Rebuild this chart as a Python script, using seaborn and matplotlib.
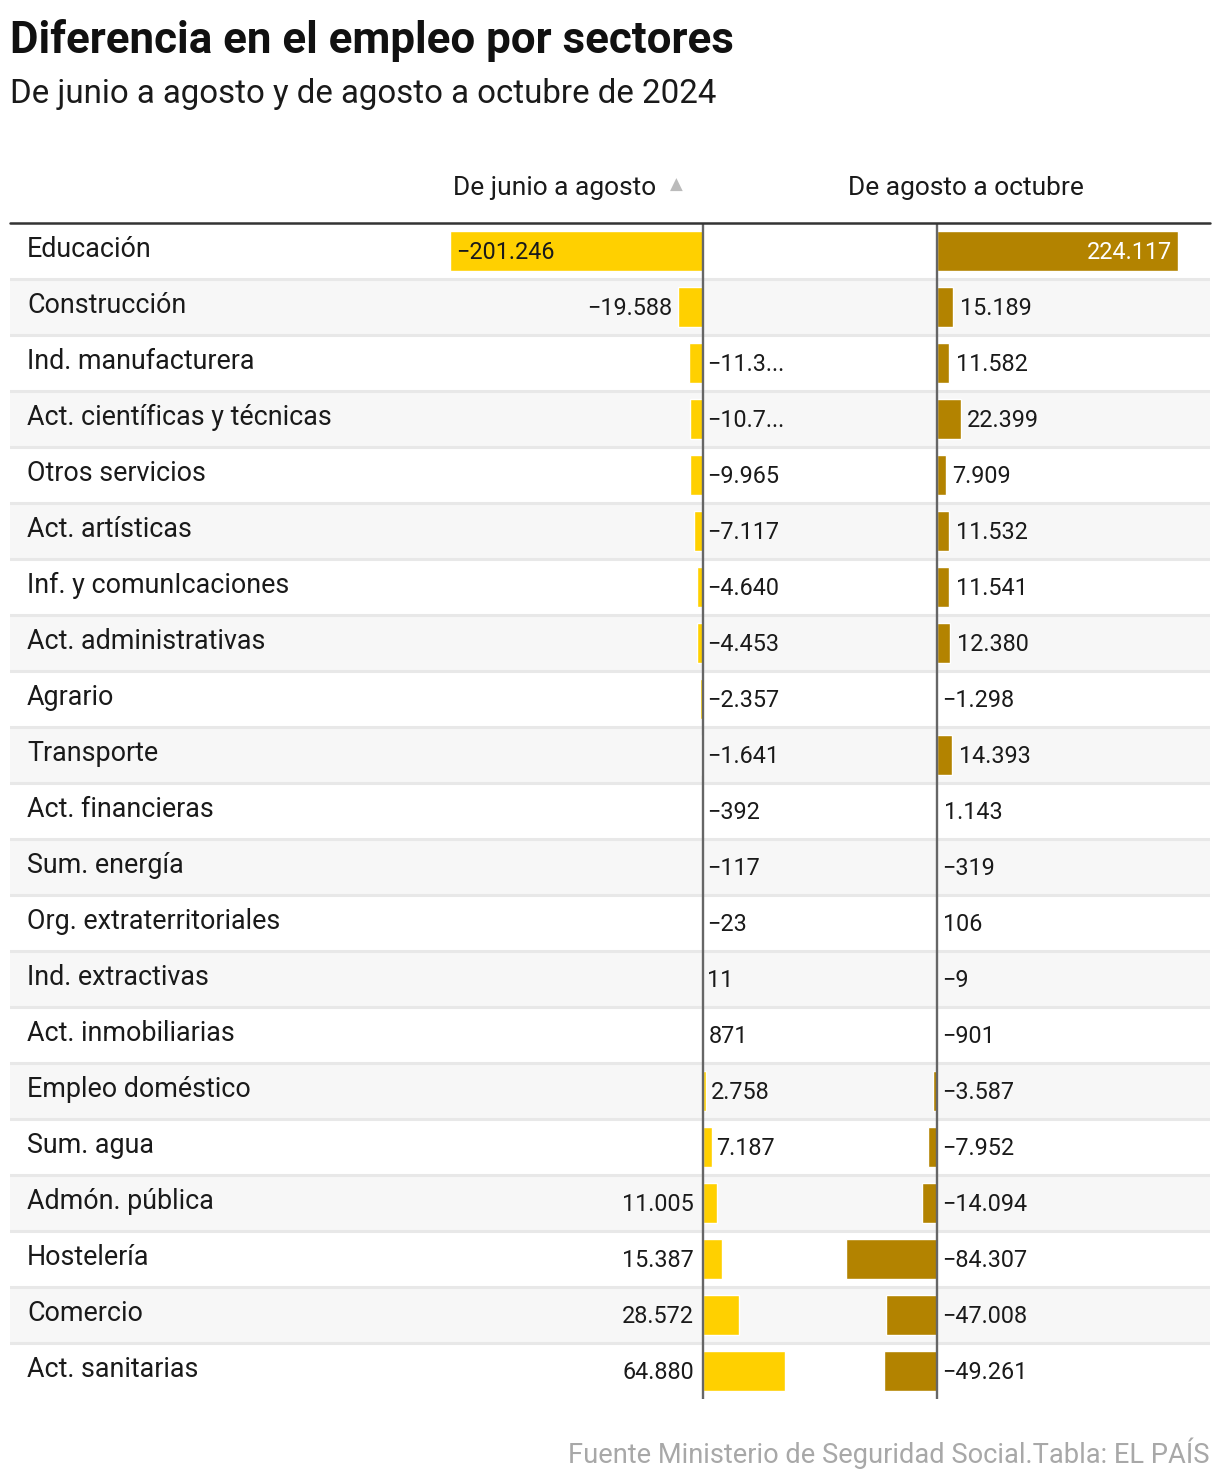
import numpy as np
import pandas as pd
import matplotlib
matplotlib.use("Agg")
import matplotlib.pyplot as plt
import seaborn as sns

# ----------------------------
# DATA
# ----------------------------

sectors = [
    "Educación", "Construcción", "Ind. manufacturera", "Act. científicas y técnicas",
    "Otros servicios", "Act. artísticas", "Inf. y comunIcaciones", "Act. administrativas",
    "Agrario", "Transporte", "Act. financieras", "Sum. energía",
    "Org. extraterritoriales", "Ind. extractivas", "Act. inmobiliarias", "Empleo doméstico",
    "Sum. agua", "Admón. pública", "Hostelería", "Comercio", "Act. sanitarias",
]

junio_agosto = [
    -201246, -19588, -11348, -10735, -9965, -7117, -4640, -4453, -2357, -1641,
    -392, -117, -23, 11, 871, 2758, 7187, 11005, 15387, 28572, 64880,
]

agosto_octubre = [
    224117, 15189, 11582, 22399, 7909, 11532, 11541, 12380, -1298, 14393,
    1143, -319, 106, -9, -901, -3587, -7952, -14094, -84307, -47008, -49261,
]

col_titles = ["De junio a agosto", "De agosto a octubre"]

title = "Diferencia en el empleo por sectores"
subtitle = "De junio a agosto y de agosto a octubre de 2024"
source = "Fuente Ministerio de Seguridad Social.Tabla: EL PAÍS"

YELLOW = "#FFD000"
GOLD = "#B38300"
TEXT = "#1a1a1a"
NUM_SIZE = 16.8

# ----------------------------
# FIGURE SETUP
# ----------------------------

sns.set_theme(style="white")
plt.rcParams["font.family"] = ["Roboto", "DejaVu Sans"]

W, H = 1220, 1482
fig = plt.figure(figsize=(W / 100, H / 100), dpi=100)
fig.patch.set_facecolor("white")

ROW_TOP, ROW_H = 223, 56
n = len(sectors)
ROW_BOTTOM = ROW_TOP + n * ROW_H


def fx(x):
    return x / W


def fy(y):
    return 1 - y / H


def band_axes(x0, x1):
    return fig.add_axes([fx(x0), fy(ROW_BOTTOM), fx(x1) - fx(x0), (ROW_BOTTOM - ROW_TOP) / H])


def fmt(v):
    s = f"{abs(v):,}".replace(",", ".")
    return ("\u2212" + s) if v < 0 else s


# ----------------------------
# BACKGROUND ROWS
# ----------------------------

bg = band_axes(10, 1210)
bg.set_xlim(0, 1)
bg.set_ylim(n - 0.5, -0.5)
bg.axis("off")
for i in range(n):
    if i % 2 == 1:
        bg.axhspan(i - 0.5, i + 0.5, color="#f7f7f7", lw=0, zorder=0)
    if i < n - 1:
        bg.axhline(i + 0.5, color="#e8e8e8", lw=2.2, zorder=1)
    bg.text(17 / 1200, i - 0.02, sectors[i], ha="left", va="center",
            fontsize=19.4, color=TEXT)

fig.add_artist(plt.Line2D([fx(10), fx(1210)], [fy(222.5), fy(222.5)],
                          color="#333333", lw=1.8))

# ----------------------------
# BAR PANELS
# ----------------------------

df = pd.DataFrame({"sector": sectors, "ja": junio_agosto, "ao": agosto_octubre})

# left panel: zero at x=703, 253 px for 201.246
l_zero, l_scale = 703, 253 / 201246
l_x0, l_x1 = 440, 820
axl = band_axes(l_x0, l_x1)
axl.patch.set_alpha(0)
sns.barplot(data=df, x="ja", y="sector", orient="h", color=YELLOW, width=0.7,
            saturation=1, ax=axl, zorder=2)
axl.set_xlim((l_x0 - l_zero) / l_scale, (l_x1 - l_zero) / l_scale)

# right panel: zero at x=937, 241 px for 224.117
r_zero, r_scale = 937, 241 / 224117
r_x0, r_x1 = 830, 1210
axr = band_axes(r_x0, r_x1)
axr.patch.set_alpha(0)
sns.barplot(data=df, x="ao", y="sector", orient="h", color=GOLD, width=0.7,
            saturation=1, ax=axr, zorder=2)
axr.set_xlim((r_x0 - r_zero) / r_scale, (r_x1 - r_zero) / r_scale)

for ax in (axl, axr):
    ax.set_ylim(n - 0.5, -0.5)
    ax.axvline(0, color="#666666", lw=1.7, zorder=3)
    ax.axis("off")

# value labels, left panel
for i, v in enumerate(junio_agosto):
    lab = fmt(v)
    y = i + 0.03
    if v <= -100000:
        axl.annotate(lab, (v, y), xytext=(4.5, 0), textcoords="offset points",
                     ha="left", va="center", fontsize=NUM_SIZE, color=TEXT)
    elif v <= -15000:
        axl.annotate(lab, (v, y), xytext=(-4.5, 0), textcoords="offset points",
                     ha="right", va="center", fontsize=NUM_SIZE, color=TEXT)
    elif v < 10000:
        if abs(v) >= 10000:
            lab = lab[:5] + "..."
        axl.annotate(lab, (max(v, 0), y), xytext=(3, 0), textcoords="offset points",
                     ha="left", va="center", fontsize=NUM_SIZE, color=TEXT)
    else:
        axl.annotate(lab, (0, y), xytext=(-6.5, 0), textcoords="offset points",
                     ha="right", va="center", fontsize=NUM_SIZE, color=TEXT)

# value labels, right panel
for i, v in enumerate(agosto_octubre):
    lab = fmt(v)
    y = i + 0.03
    if v >= 100000:
        axr.annotate(lab, (v, y), xytext=(-4.5, 0), textcoords="offset points",
                     ha="right", va="center", fontsize=NUM_SIZE, color="white")
    elif v > 0:
        axr.annotate(lab, (v, y), xytext=(4.5, 0), textcoords="offset points",
                     ha="left", va="center", fontsize=NUM_SIZE, color=TEXT)
    else:
        axr.annotate(lab, (0, y), xytext=(3.5, 0), textcoords="offset points",
                     ha="left", va="center", fontsize=NUM_SIZE, color=TEXT)

# ----------------------------
# TITLES AND HEADERS
# ----------------------------

fig.text(fx(10), fy(40), title, ha="left", va="center", fontsize=31.6,
         fontweight="bold", color="#111111")
fig.text(fx(10), fy(94), subtitle, ha="left", va="center", fontsize=23.8,
         color=TEXT)

fig.text(fx(656), fy(188), col_titles[0], ha="right", va="center", fontsize=19,
         color=TEXT)
fig.text(fx(676), fy(185), "\u25B2", ha="center", va="center", fontsize=12,
         color="#bbbbbb", family="DejaVu Sans")
fig.text(fx(966), fy(188), col_titles[1], ha="center", va="center", fontsize=19,
         color=TEXT)

fig.text(fx(1210), fy(1453), source, ha="right", va="center", fontsize=19.6,
         color="#a8a8a8")

fig.savefig("out.png", dpi=100, facecolor="white")
